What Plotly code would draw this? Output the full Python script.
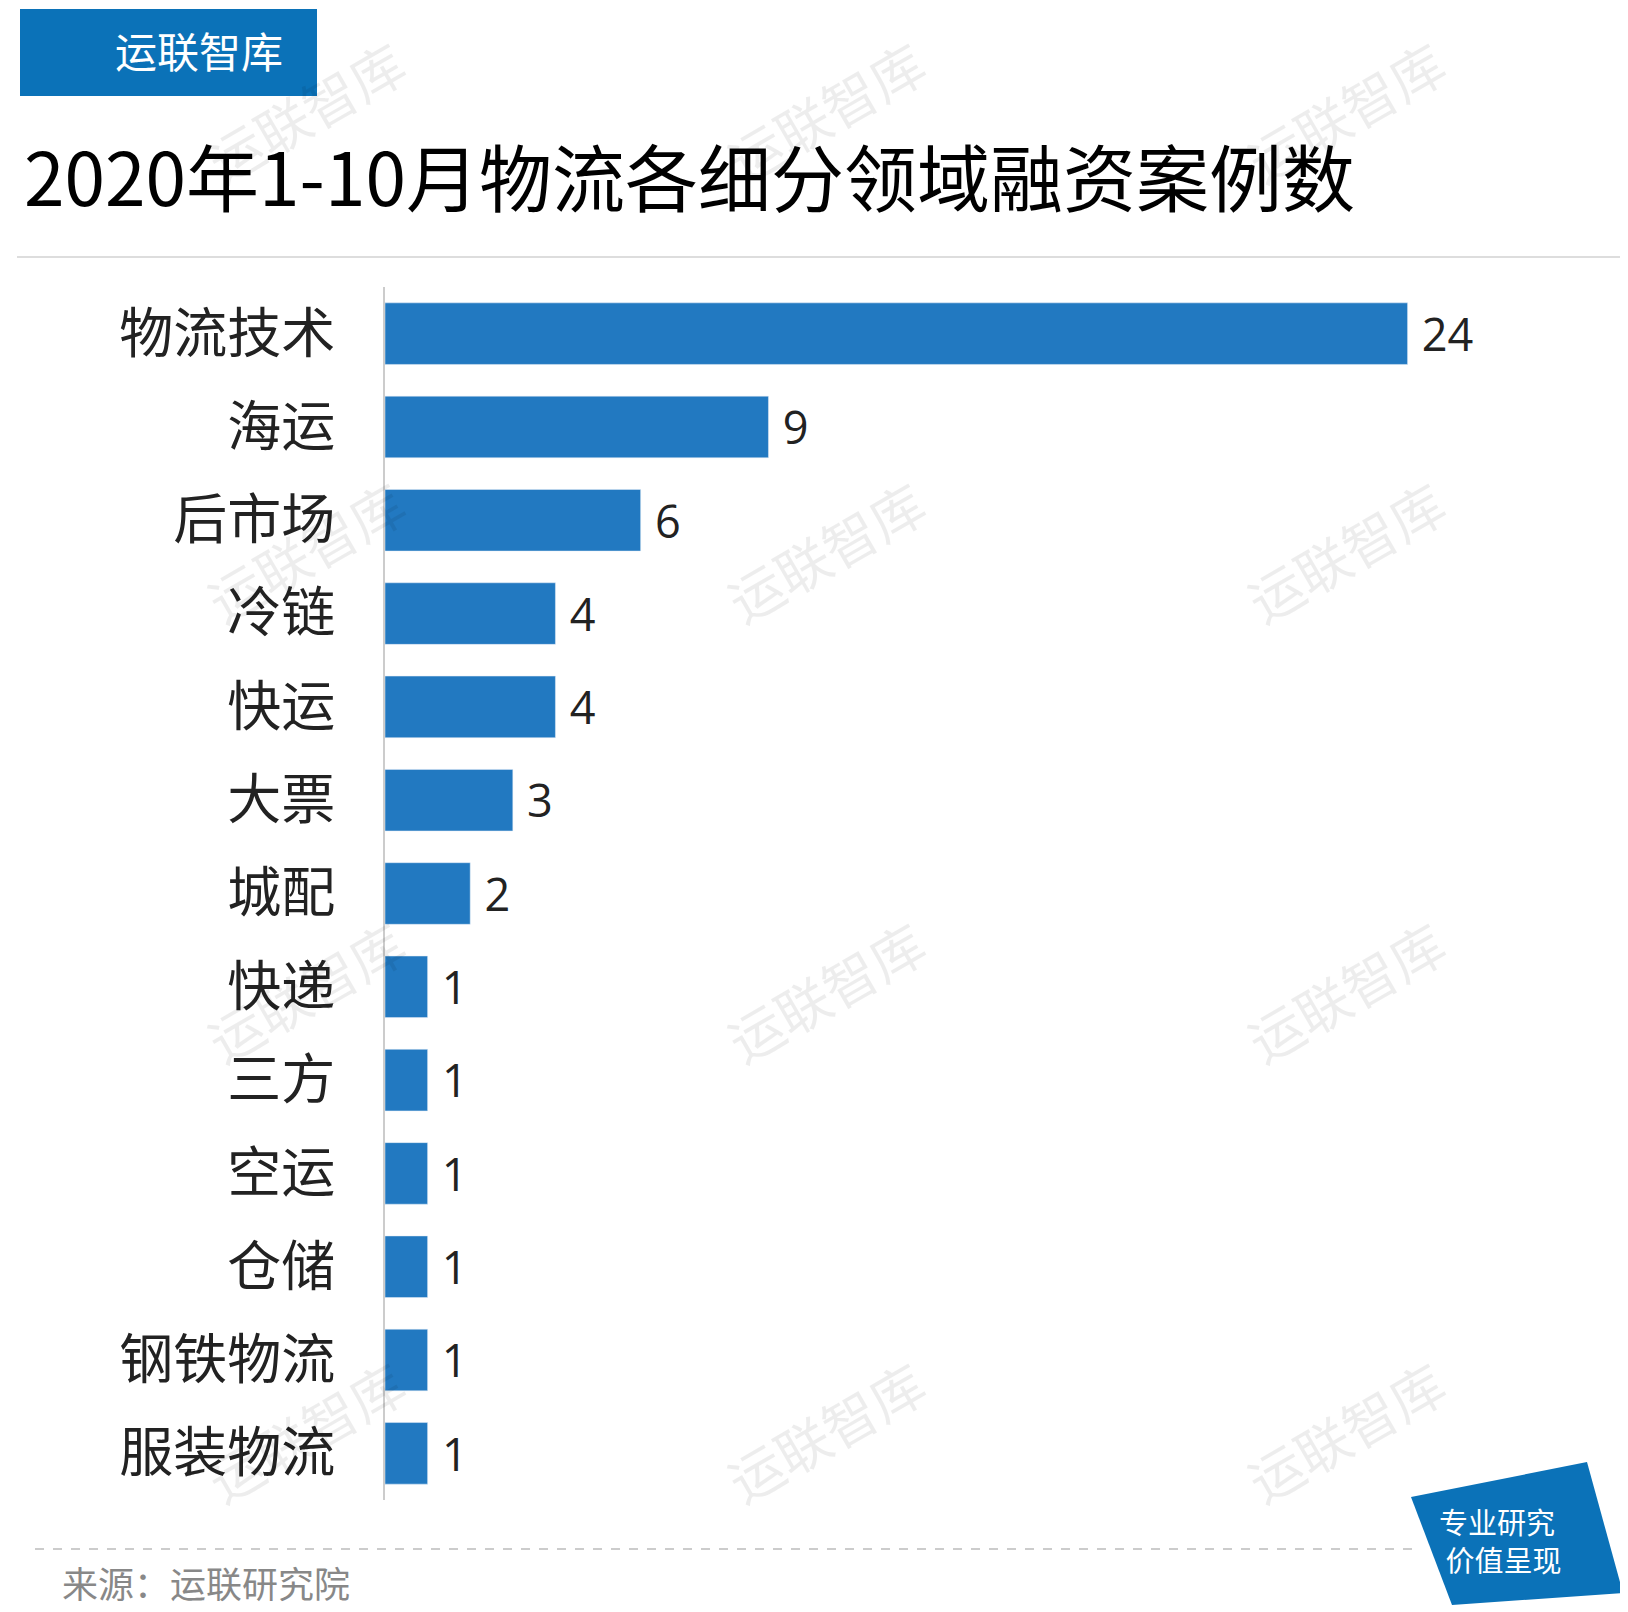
import plotly.graph_objects as go

categories = ["物流技术", "海运", "后市场", "冷链", "快运", "大票", "城配",
              "快递", "三方", "空运", "仓储", "钢铁物流", "服装物流"]
values = [24, 9, 6, 4, 4, 3, 2, 1, 1, 1, 1, 1, 1]

W, H = 1628, 1612
OFF = 8  # page body margin
L, R, T, B = 385 - OFF, 58, 287 - OFF, 120
PW, PH = W - L - R, H - T - B
FONT = "Noto Sans CJK SC"
BLUE = "#2279c1"


def px(x):
    return (x - OFF - L) / PW


def py(y):
    return (H - B - (y - OFF)) / PH


fig = go.Figure()
fig.add_trace(go.Bar(
    x=values, y=categories, orientation="h",
    marker_color=BLUE, texttemplate="\u2005%{x}", textposition="outside",
    textfont=dict(size=60, color="#222", family="Open Sans"), cliponaxis=False,
))

P = dict(xref="paper", yref="paper")
shapes = [
    dict(type="rect", x0=px(20), x1=px(317), y0=py(9), y1=py(96),
         fillcolor="#0b72b8", line_width=0, **P),
    dict(type="line", x0=px(17), x1=px(1623), y0=py(257), y1=py(257),
         line=dict(color="#dddddd", width=2), **P),
    dict(type="line", x0=px(35), x1=px(1420), y0=py(1549), y1=py(1549),
         line=dict(color="#cccccc", width=2, dash="dash"), **P),
    dict(type="path", path="M {} {} L {} {} L {} {} L {} {} Z".format(
        px(1411), py(1497), px(1587), py(1462), px(1623), py(1593), px(1452), py(1605)),
        fillcolor="#0b72b8", line_width=0, **P),
]

A = dict(showarrow=False, yanchor="middle", **P)
ann = []
# watermarks
for wy in [110, 550, 990, 1430]:
    for wx in [305, 825, 1345]:
        ann.append(dict(x=px(wx), y=py(wy), text="运联智库", textangle=-30, xanchor="center",
                        font=dict(size=54, color="rgba(0,0,0,0.07)", family=FONT), **A))
ann += [
    dict(x=px(113), y=py(50), text="运联智库", xanchor="left",
         font=dict(size=42, color="white", family=FONT), **A),
    dict(x=px(22), y=py(174), text="2020年1-10月物流各细分领域融资案例数",
         xanchor="left", font=dict(size=73, color="black", family=FONT), **A),
    dict(x=px(60), y=py(1582), text="来源：运联研究院", xanchor="left",
         font=dict(size=36, color="#888888", family=FONT), **A),
    dict(x=px(1437), y=py(1540), text="专业研究<br> 价值呈现", xanchor="left", align="left",
         font=dict(size=29, color="white", family=FONT), **A),
]

fig.update_layout(
    width=W, height=H, margin=dict(l=L, r=R, t=T, b=B),
    plot_bgcolor="white", paper_bgcolor="white", showlegend=False,
    bargap=0.34, font=dict(family=FONT),
    xaxis=dict(range=[0, 28], visible=False),
    yaxis=dict(autorange="reversed", showline=True, linecolor="#cccccc", linewidth=2,
               ticks="outside", ticklen=37, tickcolor="white",
               tickfont=dict(size=54, color="#222", family=FONT)),
    shapes=shapes, annotations=ann,
)

fig.write_html("out.html")
